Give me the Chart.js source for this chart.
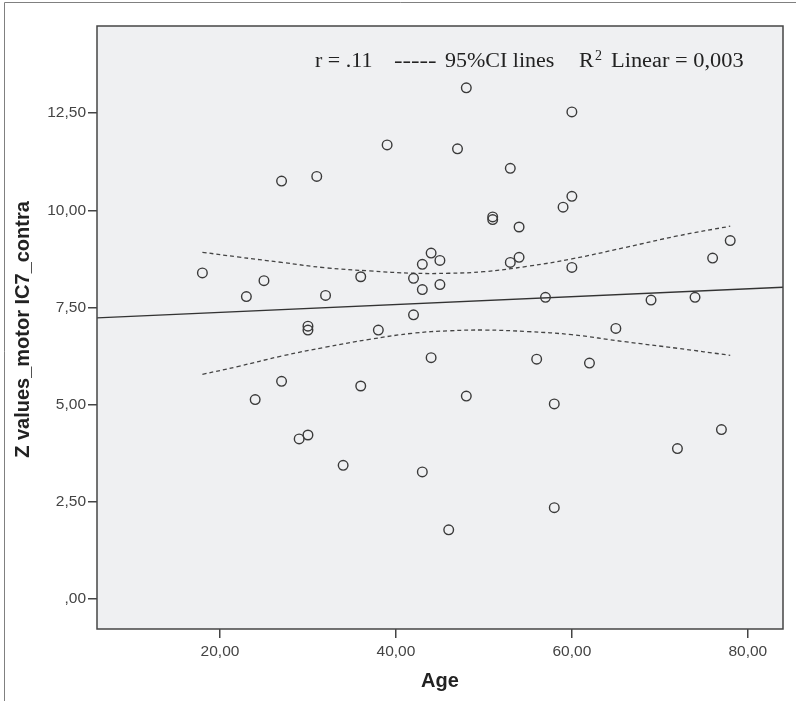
<!DOCTYPE html>
<html>
<head>
<meta charset="utf-8">
<title>Z values vs Age</title>
<script src="https://cdn.jsdelivr.net/npm/chart.js@4/dist/chart.umd.min.js"></script>
<style>
    html, body { margin: 0; padding: 0; background: #ffffff; }
    #wrap { width: 796px; height: 701px; position: relative; }
</style>
</head>
<body>
<div id="wrap"><canvas id="scatterChart" width="796" height="701"></canvas></div>
<script>
// Data
const ages = [18, 23, 24, 25, 27, 27, 29, 30, 30, 30, 31, 32, 34, 36, 36, 38, 39,
    42, 42, 43, 43, 43, 44, 44, 45, 45, 46, 47, 48, 48, 51, 51, 53, 53, 54, 54,
    56, 57, 58, 58, 59, 60, 60, 60, 62, 65, 69, 72, 74, 76, 77, 78];
const zValues = [8.39, 7.78, 5.13, 8.19, 10.75, 5.60, 4.12, 7.02, 6.92, 4.22, 10.87, 7.81, 3.44, 8.29, 5.48, 6.92, 11.68,
    8.25, 7.31, 8.61, 7.96, 3.27, 8.90, 6.21, 8.71, 8.09, 1.78, 11.58, 13.15, 5.22, 9.83, 9.76, 11.08, 8.66, 9.57, 8.79,
    6.17, 7.76, 5.02, 2.35, 10.08, 12.53, 10.36, 8.53, 6.07, 6.96, 7.69, 3.87, 7.76, 8.77, 4.36, 9.22];

// fit line end points
const fitX = [6.02, 84];
const fitY = [7.23, 8.02];

// 95% CI curves, read at a few ages
const ciX = [18, 22, 27, 32, 37, 42, 46, 50, 55, 60, 66, 72, 78];
const ciUpper = [8.92, 8.80, 8.66, 8.52, 8.44, 8.38, 8.38, 8.42, 8.56, 8.75, 9.04, 9.34, 9.59];
const ciLower = [5.78, 5.98, 6.25, 6.48, 6.68, 6.84, 6.90, 6.92, 6.88, 6.80, 6.62, 6.45, 6.27];

const xTicks = [20, 40, 60, 80];
const yTicks = [0, 2.5, 5, 7.5, 10, 12.5];

const fmt = v => (v === 0 ? ",00" : v.toFixed(2).replace(".", ","));
const toPoints = (xs, ys) => xs.map((x, i) => ({ x: x, y: ys[i] }));
const tickFont = { family: "'Liberation Sans', Arial, sans-serif", size: 15.5 };

// draw text a little stretched sideways, like the SPSS note
function wideText(ctx, text, x, y, sx) {
    ctx.save();
    ctx.translate(x, y);
    ctx.scale(sx, 1);
    ctx.fillText(text, 0, 0);
    ctx.restore();
}

// background, frame, border, titles and the note on top
const decorPlugin = {
    id: "decor",
    beforeDraw(chart) {
        const { ctx, chartArea: a } = chart;
        ctx.save();
        ctx.fillStyle = "#eff0f2";
        ctx.fillRect(a.left, a.top, a.right - a.left, a.bottom - a.top);
        // outer frame of the figure
        ctx.strokeStyle = "#808080";
        ctx.lineWidth = 1;
        ctx.beginPath();
        ctx.moveTo(4.5, 701);
        ctx.lineTo(4.5, 2.5);
        ctx.lineTo(796, 2.5);
        ctx.stroke();
        ctx.restore();
    },
    afterDraw(chart) {
        const { ctx, chartArea: a } = chart;
        ctx.save();
        ctx.strokeStyle = "#454545";
        ctx.lineWidth = 1.5;
        ctx.strokeRect(a.left, a.top, a.right - a.left, a.bottom - a.top);

        // axis titles
        ctx.fillStyle = "#222";
        ctx.font = "bold 20px 'Liberation Sans', Arial, sans-serif";
        ctx.textAlign = "center";
        ctx.textBaseline = "alphabetic";
        ctx.fillText("Age", (a.left + a.right) / 2, 687);
        ctx.translate(29, (a.top + a.bottom) / 2 + 2);
        ctx.rotate(-Math.PI / 2);
        ctx.fillText("Z values_motor IC7_contra", 0, 0);
        ctx.restore();

        // note line
        ctx.save();
        ctx.fillStyle = "#222";
        ctx.textAlign = "left";
        ctx.textBaseline = "alphabetic";
        ctx.font = "20px 'Liberation Serif', 'Times New Roman', serif";
        wideText(ctx, "r = .11", 315, 67, 1.1);
        wideText(ctx, "-----", 394, 67, 1.28);
        wideText(ctx, "95%CI lines", 445, 67, 1.1);
        wideText(ctx, "R", 579, 67, 1.1);
        wideText(ctx, "Linear = 0,003", 611, 67, 1.12);
        ctx.font = "14px 'Liberation Serif', 'Times New Roman', serif";
        ctx.fillText("2", 595, 60);
        ctx.restore();
    }
};

document.addEventListener("DOMContentLoaded", () => {
    const ctx = document.getElementById("scatterChart").getContext("2d");
    new Chart(ctx, {
        type: "scatter",
        data: {
            datasets: [
                {
                    label: "Z values",
                    data: toPoints(ages, zValues),
                    pointStyle: "circle",
                    pointRadius: 4.8,
                    pointBorderWidth: 1.4,
                    borderColor: "#3a3a3a",
                    backgroundColor: "rgba(0,0,0,0)",
                    order: 0
                },
                {
                    label: "Linear fit",
                    type: "line",
                    data: toPoints(fitX, fitY),
                    borderColor: "#333",
                    borderWidth: 1.3,
                    pointRadius: 0,
                    fill: false,
                    order: 1
                },
                {
                    label: "95% CI upper",
                    type: "line",
                    data: toPoints(ciX, ciUpper),
                    borderColor: "#444",
                    borderWidth: 1.3,
                    borderDash: [4, 3],
                    pointRadius: 0,
                    tension: 0.4,
                    fill: false,
                    order: 1
                },
                {
                    label: "95% CI lower",
                    type: "line",
                    data: toPoints(ciX, ciLower),
                    borderColor: "#444",
                    borderWidth: 1.3,
                    borderDash: [4, 3],
                    pointRadius: 0,
                    tension: 0.4,
                    fill: false,
                    order: 1
                }
            ]
        },
        options: {
            responsive: false,
            animation: false,
            layout: {
                autoPadding: false,
                padding: { top: 26, right: 13, left: 0, bottom: 0 }
            },
            plugins: {
                legend: { display: false },
                tooltip: { enabled: false }
            },
            scales: {
                x: {
                    type: "linear",
                    min: 6.02,
                    max: 84,
                    afterBuildTicks: s => { s.ticks = xTicks.map(v => ({ value: v })); },
                    afterFit: s => { s.height = 72; },
                    grid: { drawOnChartArea: false, drawTicks: true, tickLength: 9, color: "#444", lineWidth: 1.5 },
                    border: { display: false },
                    ticks: {
                        callback: v => fmt(v),
                        color: "#444",
                        padding: 4,
                        maxRotation: 0,
                        font: tickFont
                    }
                },
                y: {
                    type: "linear",
                    min: -0.77,
                    max: 14.74,
                    afterBuildTicks: s => { s.ticks = yTicks.map(v => ({ value: v })); },
                    afterFit: s => { s.width = 97; },
                    grid: { drawOnChartArea: false, drawTicks: true, tickLength: 9, color: "#444", lineWidth: 1.5 },
                    border: { display: false },
                    ticks: {
                        callback: v => fmt(v),
                        color: "#444",
                        padding: 2,
                        font: tickFont
                    }
                }
            }
        },
        plugins: [decorPlugin]
    });
});
</script>
</body>
</html>
